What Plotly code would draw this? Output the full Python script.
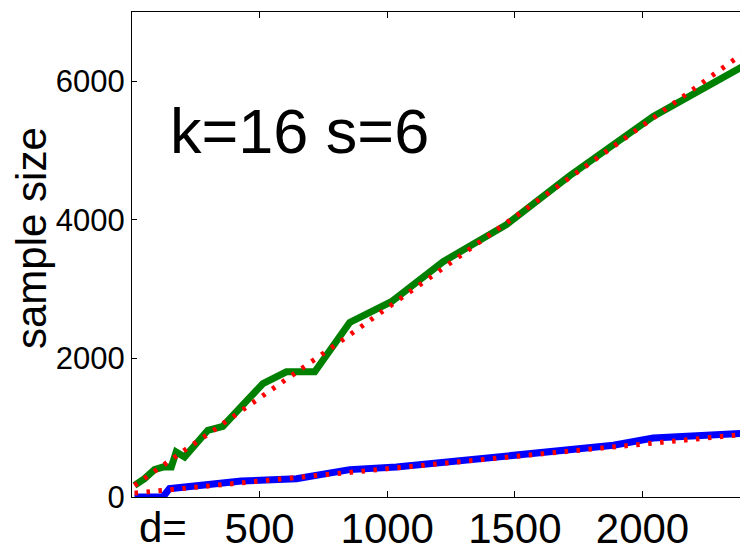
import plotly.graph_objects as go

# Measured sample sizes (green) and their fit (red dotted)
d_green = [10, 49, 88, 121, 154, 173, 206, 297, 356, 513, 605, 716, 853, 1016, 1219, 1467, 1716, 2042, 2400]
v_green = [168, 265, 395, 432, 432, 650, 577, 963, 1021, 1638, 1806, 1806, 2520, 2819, 3397, 3930, 4640, 5494, 6230]
v_green_fit = [168, 265, 370, 455, 540, 590, 675, 905, 1055, 1460, 1700, 1985, 2340, 2770, 3300, 3950, 4610, 5470, 6420]

# Measured sample sizes (blue) and their fit (red dotted)
d_blue = [10, 121, 147, 297, 369, 428, 644, 774, 853, 1036, 1297, 1689, 1886, 2042, 2400]
v_blue = [0, 0, 120, 168, 192, 230, 265, 351, 395, 432, 529, 659, 746, 852, 920]
v_blue_fit = [56, 95, 105, 160, 185, 205, 285, 330, 355, 420, 515, 655, 725, 785, 905]

x_ticks = [500, 1000, 1500, 2000]
y_ticks = [0, 2000, 4000, 6000]

FONT = "Liberation Sans, Arial, sans-serif"
W, H = 740, 547
L, T, B = 132, 12, 50
R = 0
plot_w = W - L - R
plot_h = H - T - B
x_max = 2382

fig = go.Figure()
fig.add_trace(go.Scatter(x=d_green, y=v_green, mode="lines",
                         line=dict(color="#008000", width=7)))
fig.add_trace(go.Scatter(x=d_blue, y=v_blue, mode="lines",
                         line=dict(color="#0000ff", width=7)))
fig.add_trace(go.Scatter(x=d_green, y=v_green_fit, mode="lines",
                         line=dict(color="#ff0000", width=5, dash="3.5px,8.5px")))
fig.add_trace(go.Scatter(x=d_blue, y=v_blue_fit, mode="lines",
                         line=dict(color="#ff0000", width=5, dash="3.5px,8.5px")))


def px_to_paper_x(px):
    return (px - L) / plot_w


def px_to_paper_y(py):
    return (H - B - py) / plot_h


fig.add_annotation(text="k=16 s=6", xref="paper", yref="paper",
                   x=px_to_paper_x(168), y=px_to_paper_y(131),
                   xanchor="left", yanchor="middle", showarrow=False,
                   font=dict(family=FONT, size=63, color="black"))
fig.add_annotation(text="sample size", xref="paper", yref="paper",
                   x=px_to_paper_x(31), y=px_to_paper_y(238),
                   xanchor="center", yanchor="middle", showarrow=False, textangle=-90,
                   font=dict(family=FONT, size=42, color="black"))
fig.add_annotation(text="d=", xref="paper", yref="paper",
                   x=px_to_paper_x(137), y=px_to_paper_y(527),
                   xanchor="left", yanchor="middle", showarrow=False,
                   font=dict(family=FONT, size=42, color="black"))

fig.update_xaxes(range=[0, x_max], tickvals=x_ticks, ticktext=[str(v) for v in x_ticks],
                 showline=True, linecolor="black", linewidth=1, mirror="ticks",
                 ticks="inside", ticklen=6, tickcolor="black", showgrid=False, zeroline=False,
                 tickfont=dict(family=FONT, size=42, color="black"), ticklabelstandoff=-5)
fig.update_yaxes(range=[0, 7000], tickvals=y_ticks, ticktext=[str(v) for v in y_ticks],
                 showline=True, linecolor="black", linewidth=1, mirror=False,
                 ticks="inside", ticklen=5, tickcolor="black", showgrid=False, zeroline=False,
                 tickfont=dict(family=FONT, size=31, color="black"))

fig.update_layout(width=W, height=H, margin=dict(l=L, r=R, t=T, b=B, autoexpand=False),
                  plot_bgcolor="white", paper_bgcolor="white", showlegend=False,
                  hovermode=False)

fig.write_html("out.html", config={"displayModeBar": False})
